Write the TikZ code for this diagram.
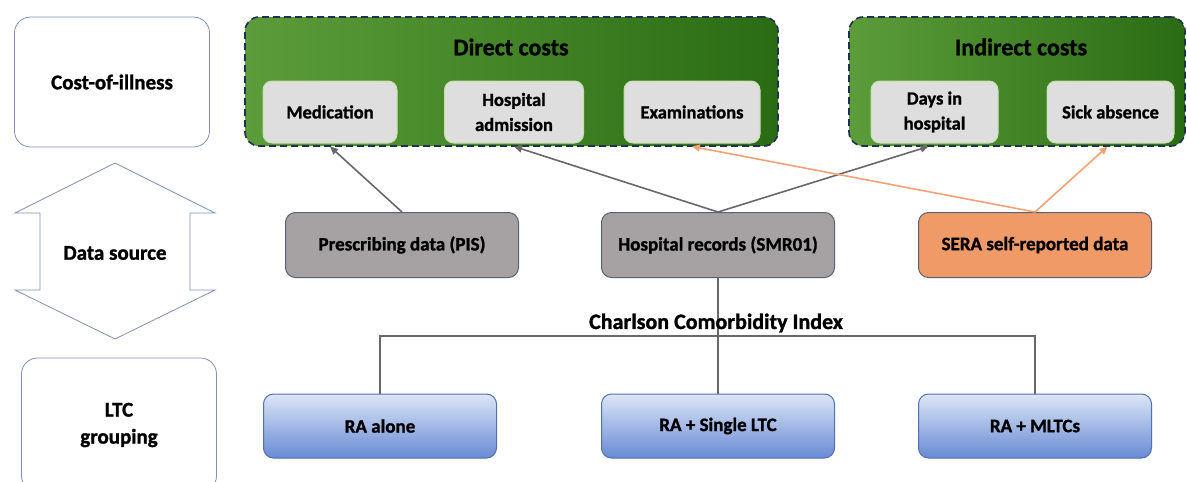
\documentclass[tikz,border=0pt]{standalone}
\usepackage{fontspec}
\setmainfont{Carlito}[BoldFeatures={FakeBold=1.2}]
\usetikzlibrary{arrows.meta}

\definecolor{navyline}{RGB}{31,48,80}
\definecolor{greenL}{RGB}{92,156,58}
\definecolor{greenD}{RGB}{42,108,20}
\definecolor{cellfill}{RGB}{222,222,222}
\definecolor{cellline}{RGB}{198,224,168}
\definecolor{srcgray}{RGB}{166,162,164}
\definecolor{srcline}{RGB}{90,96,118}
\definecolor{seraorange}{RGB}{240,154,104}
\definecolor{blueT}{RGB}{220,230,246}
\definecolor{blueB}{RGB}{104,138,212}
\definecolor{blueline}{RGB}{80,112,176}
\definecolor{sideline}{RGB}{128,144,184}
\definecolor{arrowgray}{RGB}{104,104,104}
\definecolor{arroworange}{RGB}{243,162,118}

\begin{document}
\begin{tikzpicture}[x=1pt,y=-1pt,
  every node/.style={font=\bfseries},
  sidebox/.style={draw=sideline, line width=0.8pt, rounded corners=16pt, fill=white,
    minimum width=195pt, align=center, font=\bfseries\fontsize{21}{27}\selectfont},
  costgroup/.style={draw=navyline, dashed, dash pattern=on 7pt off 4pt, line width=1.6pt,
    rounded corners=14pt, left color=greenL, right color=greenD, minimum height=129pt},
  grouptitle/.style={font=\bfseries\fontsize{24}{28}\selectfont},
  cell/.style={draw=cellline, line width=1pt, fill=cellfill, rounded corners=9pt,
    minimum height=62pt, align=center, font=\bfseries\fontsize{18.5}{25}\selectfont},
  srcbox/.style={draw=srcline, line width=1pt, rounded corners=10pt,
    minimum width=233pt, minimum height=65pt, font=\bfseries\fontsize{19}{23}\selectfont},
  ltcbox/.style={draw=blueline, line width=1pt, rounded corners=10pt,
    top color=blueT, bottom color=blueB,
    minimum width=233pt, minimum height=64pt, font=\bfseries\fontsize{19}{23}\selectfont},
  grayarrow/.style={draw=arrowgray, line width=1.6pt, -{Triangle[length=8pt,width=7pt]}},
  orangearrow/.style={draw=arroworange, line width=1.6pt, -{Triangle[length=8pt,width=7pt]}},
  joinline/.style={draw=arrowgray, line width=1.6pt}
]
\useasboundingbox (0,0) rectangle (1187,482);
\clip (0,0) rectangle (1187,482);

% Left column
\node[sidebox, minimum height=130pt] (cost) at (112,82) {Cost-of-illness};
\draw[draw=sideline, line width=0.8pt, fill=white]
  (115,163) -- (215,213) -- (190,213) -- (190,290) -- (215,290) -- (115,339)
  -- (15,290) -- (40,290) -- (40,213) -- (15,213) -- cycle;
\node[font=\bfseries\fontsize{21}{27}\selectfont] (src) at (115,253) {Data source};
\node[sidebox, minimum height=134pt] (ltc) at (119,425) {LTC\\grouping};

% Cost groups
\node[costgroup, minimum width=533pt] (direct) at (511.5,81.5) {};
\node[costgroup, minimum width=336pt] (indirect) at (1017,81.5) {};
\node[grouptitle] (directlbl) at (511,47) {Direct costs};
\node[grouptitle] (indirectlbl) at (1021,47) {Indirect costs};

\node[cell, minimum width=134pt] (med) at (330,112) {Medication};
\node[cell, minimum width=139pt] (adm) at (514,112) {Hospital\\admission};
\node[cell, minimum width=136pt] (exam) at (692,112) {Examinations};
\node[cell, minimum width=127pt] (days) at (934.5,112) {Days in\\hospital};
\node[cell, minimum width=127pt] (sick) at (1110.5,112) {Sick absence};

% Data sources
\node[srcbox, fill=srcgray] (pis) at (402,245) {Prescribing data (PIS)};
\node[srcbox, fill=srcgray] (smr) at (718,245) {Hospital records (SMR01)};
\node[srcbox, fill=seraorange] (sera) at (1035,245) {SERA self-reported data};

% LTC groups
\node[ltcbox] (alone) at (380,426) {RA alone};
\node[ltcbox] (single) at (718,426) {RA + Single LTC};
\node[ltcbox] (mltc) at (1035,426) {RA + MLTCs};

% Arrows
\draw[grayarrow] (pis.north) -- ([yshift=-3pt]med.south);
\draw[grayarrow] (smr.north) -- ([yshift=-3pt]adm.south);
\draw[grayarrow] (smr.north) -- ([xshift=-6pt,yshift=-3pt]days.south);
\draw[orangearrow] (sera.north) -- ([yshift=-3pt]exam.south);
\draw[orangearrow] (sera.north) -- ([xshift=-3pt,yshift=-3pt]sick.south);

% Charlson Comorbidity Index
\coordinate (cci) at (717,336);
\draw[joinline] (alone.north) |- (cci) -| (mltc.north);
\draw[joinline] (smr.south) -- (single.north);
\node[font=\bfseries\fontsize{22}{26}\selectfont] (ccilbl) at (716,323) {Charlson Comorbidity Index};
\end{tikzpicture}
\end{document}
